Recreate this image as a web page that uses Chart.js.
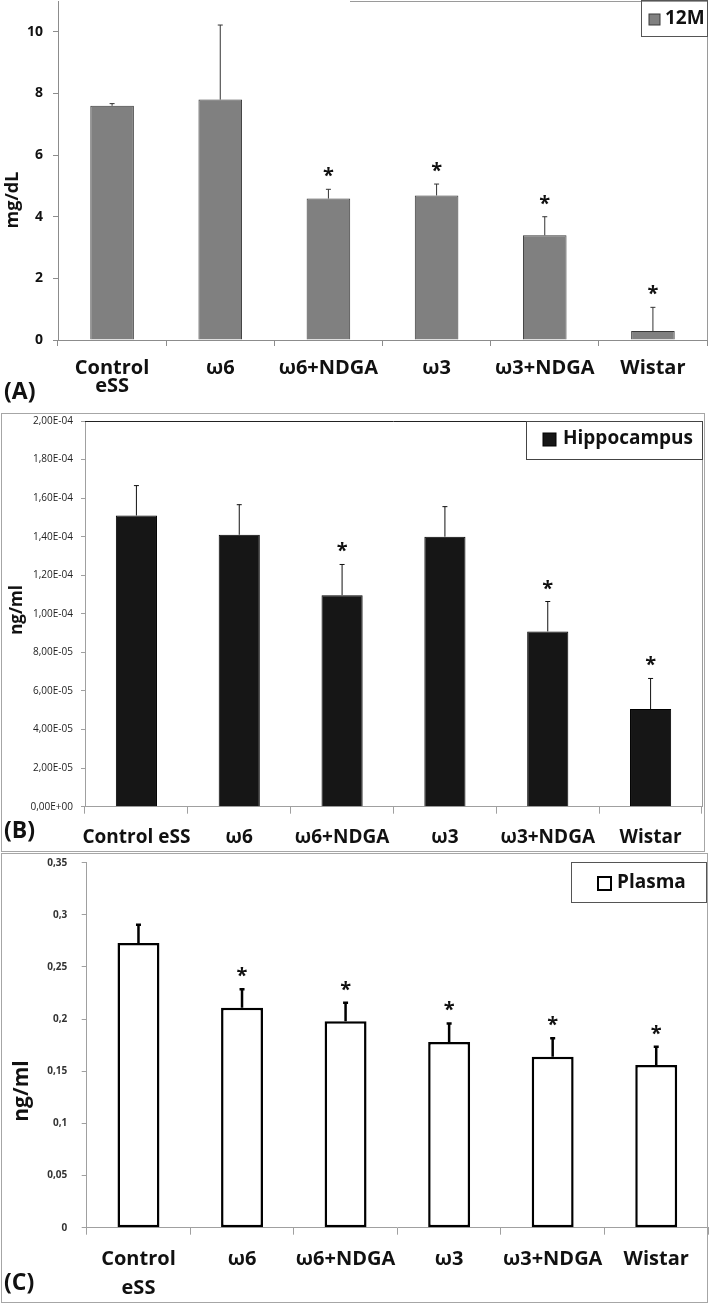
<!DOCTYPE html>
<html>
<head>
<meta charset="utf-8">
<script src="https://cdn.jsdelivr.net/npm/chart.js@4.4.0/dist/chart.umd.min.js"></script>
<style>
  body { margin: 0; background: #fff; width: 709px; height: 1306px; position: relative; overflow: hidden; }
  canvas { position: absolute; left: 0; }
  .frame { position: absolute; border: 1px solid #a6a6a6; pointer-events: none; }
</style>
</head>
<body>
<canvas id="chartA" width="709" height="405" style="top:0"></canvas>
<canvas id="chartB" width="709" height="447" style="top:405px"></canvas>
<canvas id="chartC" width="709" height="454" style="top:852px"></canvas>
<div class="frame" style="left:1px;top:413px;width:702px;height:437px"></div>
<div class="frame" style="left:1px;top:853px;width:705px;height:448px"></div>
<script>
// groups
const groupsTwoLine = [["Control", "eSS"], "ω6", "ω6+NDGA", "ω3", "ω3+NDGA", "Wistar"];
const groupsOneLine = ["Control eSS", "ω6", "ω6+NDGA", "ω3", "ω3+NDGA", "Wistar"];

// (A) 12M, mg/dL
const values12M = [7.6, 7.8, 4.59, 4.69, 3.4, 0.29];
const err12M = [0.07, 2.42, 0.3, 0.37, 0.6, 0.77];
const signif12M = [false, false, true, true, true, true];

// (B) Hippocampus, ng/ml
const valuesHippo = [1.51e-4, 1.41e-4, 1.097e-4, 1.40e-4, 9.09e-5, 5.06e-5];
const errHippo = [1.55e-5, 1.56e-5, 1.59e-5, 1.56e-5, 1.55e-5, 1.59e-5];
const signifHippo = [false, false, true, false, true, true];

// (C) Plasma, ng/ml
const valuesPlasma = [0.273, 0.211, 0.198, 0.178, 0.164, 0.156];
const errPlasma = [0.0175, 0.0176, 0.0178, 0.0179, 0.0176, 0.0176];
const signifPlasma = [false, true, true, true, true, true];

const FONT = "'Open Sans', sans-serif";

// error bars, asterisks, legend box, axis title and panel letter
const extras = {
  id: "extras",
  afterDatasetsDraw(chart, args, o) {
    const ctx = chart.ctx;
    const y = chart.scales.y;
    const area = chart.chartArea;
    const vals = chart.data.datasets[0].data;
    ctx.save();

    if (o.borders) o.borders(ctx, area);

    chart.getDatasetMeta(0).data.forEach((bar, i) => {
      const top = y.getPixelForValue(vals[i] + o.errors[i]);
      ctx.strokeStyle = o.errColor;
      ctx.lineWidth = o.errWidth;
      ctx.beginPath();
      ctx.moveTo(bar.x, bar.y);
      ctx.lineTo(bar.x, top);
      ctx.moveTo(bar.x - o.cap, top);
      ctx.lineTo(bar.x + o.cap, top);
      ctx.stroke();
      if (o.stars[i]) {
        ctx.fillStyle = "#111";
        ctx.font = "bold 20px " + FONT;
        ctx.textAlign = "center";
        ctx.textBaseline = "alphabetic";
        ctx.fillText("*", bar.x, top - 18 + 11);
      }
    });

    // legend
    const lg = o.legend;
    ctx.lineWidth = 1;
    ctx.strokeStyle = lg.border;
    ctx.strokeRect(lg.box[0] + 0.5, lg.box[1] + 0.5, lg.box[2] - lg.box[0], lg.box[3] - lg.box[1]);
    ctx.fillStyle = lg.fill;
    ctx.fillRect(lg.swatch[0], lg.swatch[1], lg.swatch[2], lg.swatch[2]);
    ctx.strokeStyle = lg.swatchBorder;
    ctx.lineWidth = lg.swatchLine;
    ctx.strokeRect(lg.swatch[0], lg.swatch[1], lg.swatch[2], lg.swatch[2]);
    ctx.fillStyle = "#111";
    ctx.font = "bold 19px " + FONT;
    ctx.textAlign = "left";
    ctx.textBaseline = "middle";
    ctx.fillText(chart.data.datasets[0].label, lg.text[0], lg.text[1]);

    // y title
    ctx.save();
    ctx.translate(o.yTitle.x, o.yTitle.y);
    ctx.rotate(-Math.PI / 2);
    ctx.font = "bold " + o.yTitle.size + "px " + FONT;
    ctx.textAlign = "center";
    ctx.textBaseline = "middle";
    ctx.fillText(o.yTitle.text, 0, 0);
    ctx.restore();

    // panel letter
    ctx.font = "bold 23px " + FONT;
    ctx.textAlign = "left";
    ctx.textBaseline = "middle";
    ctx.fillText(o.letter.text, o.letter.x, o.letter.y);
    ctx.restore();
  }
};

function fixBox(w, h) {
  return (s) => {
    if (w !== undefined) s.width = w;
    if (h !== undefined) s.height = h;
    s.paddingTop = 0; s.paddingBottom = 0; s.paddingLeft = 0; s.paddingRight = 0;
  };
}

function sciComma(v) {
  if (v === 0) return "0,00E+00";
  const e = Math.floor(Math.log10(Math.abs(v)) + 1e-9);
  const m = v / Math.pow(10, e);
  const sign = e < 0 ? "-" : "+";
  return m.toFixed(2).replace(".", ",") + "E" + sign + String(Math.abs(e)).padStart(2, "0");
}

// (A)
new Chart(document.getElementById("chartA"), {
  type: "bar",
  data: {
    labels: groupsTwoLine,
    datasets: [{
      label: "12M",
      data: values12M,
      backgroundColor: "#808080",
      borderColor: "#3a3a3a",
      borderWidth: 1,
      borderSkipped: "start",
      categoryPercentage: 1,
      barPercentage: 0.403
    }]
  },
  options: {
    responsive: false,
    animation: false,
    layout: { padding: { top: 1, right: 2, left: 0, bottom: 0 } },
    plugins: {
      legend: { display: false },
      tooltip: { enabled: false },
      extras: {
        errors: err12M, stars: signif12M, errColor: "#333", errWidth: 1, cap: 2.5,
        legend: { box: [641, 0, 707, 36], swatch: [649, 14, 11], fill: "#808080", swatchBorder: "#3a3a3a", swatchLine: 1, border: "#555", text: [665, 19] },
        yTitle: { text: "mg/dL", x: 13, y: 200, size: 18 },
        letter: { text: "(A)", x: 4, y: 392 },
        borders(ctx, a) {
          ctx.strokeStyle = "#9a9a9a"; ctx.lineWidth = 1;
          ctx.beginPath();
          ctx.moveTo(350, 1.5); ctx.lineTo(a.right, 1.5);
          ctx.moveTo(a.right + 0.5, 0); ctx.lineTo(a.right + 0.5, a.bottom);
          ctx.stroke();
        }
      }
    },
    scales: {
      x: {
        afterFit: fixBox(undefined, 65),
        grid: { drawOnChartArea: false, tickLength: 6, color: "#8c8c8c" },
        border: { color: "#8c8c8c" },
        ticks: { color: "#111", padding: 12.8, maxRotation: 0, minRotation: 0, autoSkip: false,
          font: { family: FONT, size: 20, weight: "bold", lineHeight: 0.93 } }
      },
      y: {
        min: 0, max: 11,
        afterFit: fixBox(58, undefined),
        afterBuildTicks: (s) => { s.ticks = s.ticks.filter(t => t.value <= 10); },
        grid: { drawOnChartArea: false, tickLength: 5, color: "#8c8c8c" },
        border: { color: "#8c8c8c" },
        ticks: { stepSize: 2, color: "#111", padding: 10, font: { family: FONT, size: 14, weight: "bold" } }
      }
    }
  },
  plugins: [extras]
});

// (B)
new Chart(document.getElementById("chartB"), {
  type: "bar",
  data: {
    labels: groupsOneLine,
    datasets: [{
      label: "Hippocampus",
      data: valuesHippo,
      backgroundColor: "#161616",
      borderColor: "#000",
      borderWidth: 1,
      categoryPercentage: 1,
      barPercentage: 0.4
    }]
  },
  options: {
    responsive: false,
    animation: false,
    layout: { padding: { top: 16, right: 7, left: 0, bottom: 0 } },
    plugins: {
      legend: { display: false },
      tooltip: { enabled: false },
      extras: {
        errors: errHippo, stars: signifHippo, errColor: "#111", errWidth: 1, cap: 2.5,
        legend: { box: [526, 16, 702, 54], swatch: [543, 28, 13], fill: "#161616", swatchBorder: "#000", swatchLine: 1, border: "#444", text: [563, 34] },
        yTitle: { text: "ng/ml", x: 17, y: 205, size: 17 },
        letter: { text: "(B)", x: 4, y: 426 },
        borders(ctx, a) {
          ctx.lineWidth = 1;
          ctx.strokeStyle = "#222";
          ctx.beginPath(); ctx.moveTo(a.left, a.top + 0.5); ctx.lineTo(a.right, a.top + 0.5); ctx.stroke();
          ctx.strokeStyle = "#9a9a9a";
          ctx.beginPath(); ctx.moveTo(a.right + 0.5, a.top); ctx.lineTo(a.right + 0.5, a.bottom); ctx.stroke();
        }
      }
    },
    scales: {
      x: {
        afterFit: fixBox(undefined, 45.3),
        grid: { drawOnChartArea: false, tickLength: 7, color: "#a0a0a0" },
        border: { color: "#a0a0a0" },
        ticks: { color: "#111", padding: 12.6, maxRotation: 0, minRotation: 0, autoSkip: false,
          font: { family: FONT, size: 19, weight: "bold", lineHeight: 1.2 } }
      },
      y: {
        min: 0, max: 2e-4,
        afterFit: fixBox(85, undefined),
        grid: { drawOnChartArea: false, tickLength: 4, color: "#a0a0a0" },
        border: { color: "#a0a0a0" },
        ticks: { stepSize: 2e-5, color: "#222", padding: 8, font: { family: FONT, size: 10 }, callback: (v) => sciComma(v) }
      }
    }
  },
  plugins: [extras]
});

// (C)
new Chart(document.getElementById("chartC"), {
  type: "bar",
  data: {
    labels: groupsTwoLine,
    datasets: [{
      label: "Plasma",
      data: valuesPlasma,
      backgroundColor: "#fff",
      borderColor: "#000",
      borderWidth: 2.5,
      borderSkipped: false,
      categoryPercentage: 1,
      barPercentage: 0.405
    }]
  },
  options: {
    responsive: false,
    animation: false,
    layout: { padding: { top: 10.7, right: 1, left: 0, bottom: 0 } },
    plugins: {
      legend: { display: false },
      tooltip: { enabled: false },
      extras: {
        errors: errPlasma, stars: signifPlasma, errColor: "#000", errWidth: 2.5, cap: 2.5,
        legend: { box: [571, 10, 706, 50], swatch: [598, 25, 13], fill: "#fff", swatchBorder: "#000", swatchLine: 2, border: "#555", text: [617, 31] },
        yTitle: { text: "ng/ml", x: 22, y: 239, size: 21 },
        letter: { text: "(C)", x: 4, y: 431 }
      }
    },
    scales: {
      x: {
        afterFit: fixBox(undefined, 78.3),
        grid: { drawOnChartArea: false, tickLength: 7, color: "#a0a0a0" },
        border: { color: "#a0a0a0" },
        ticks: { color: "#111", padding: 9.8, maxRotation: 0, minRotation: 0, autoSkip: false,
          font: { family: FONT, size: 20, weight: "bold", lineHeight: 1.45 } }
      },
      y: {
        min: 0, max: 0.35,
        afterFit: fixBox(86.7, undefined),
        grid: { drawOnChartArea: false, tickLength: 5, color: "#a0a0a0" },
        border: { color: "#a0a0a0" },
        ticks: { stepSize: 0.05, color: "#333", padding: 14.4, font: { family: FONT, size: 10, weight: "bold" },
          callback: (v) => String(+v.toFixed(2)).replace(".", ",") }
      }
    }
  },
  plugins: [extras]
});
</script>
</body>
</html>
